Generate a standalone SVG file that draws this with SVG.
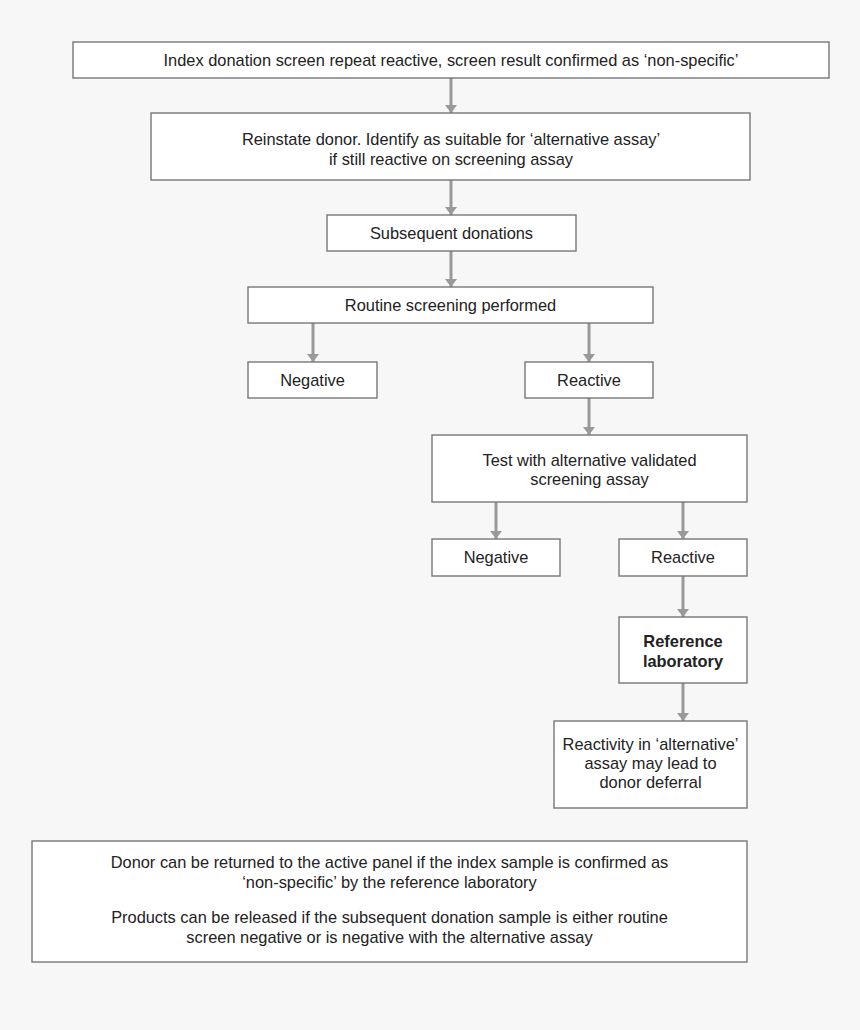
<svg xmlns="http://www.w3.org/2000/svg" width="860" height="1030" viewBox="0 0 860 1030">
<defs>
<marker id="ah" viewBox="0 0 8 12" refX="8" refY="6" markerWidth="8" markerHeight="12" markerUnits="userSpaceOnUse" orient="auto">
<path d="M0,0 L8,6 L0,12 z" fill="#999"/>
</marker>
<style>
.box{fill:#fff;stroke:#777;stroke-width:1.4}
.t{font-family:"Liberation Sans",Arial,sans-serif;font-size:16.4px;fill:#222;text-anchor:middle}
.b{font-weight:bold}
.c{stroke:#999;stroke-width:3;fill:none;marker-end:url(#ah)}
</style>
</defs>
<rect width="860" height="1030" fill="#f7f7f7"/>
<g id="connectors">
<line class="c" x1="451" y1="78" x2="451" y2="113"/>
<line class="c" x1="451" y1="180" x2="451" y2="215"/>
<line class="c" x1="451" y1="251" x2="451" y2="287"/>
<line class="c" x1="313" y1="323" x2="313" y2="362"/>
<line class="c" x1="589" y1="323" x2="589" y2="362"/>
<line class="c" x1="589" y1="398" x2="589" y2="435"/>
<line class="c" x1="496" y1="502" x2="496" y2="539"/>
<line class="c" x1="683" y1="502" x2="683" y2="539"/>
<line class="c" x1="683" y1="576" x2="683" y2="617"/>
<line class="c" x1="683" y1="683" x2="683" y2="721"/>
</g>
<g id="n1"><rect class="box" x="73" y="42" width="756" height="36"/><text class="t" x="451" y="66">Index donation screen repeat reactive, screen result confirmed as ‘non-specific’</text></g>
<g id="n2"><rect class="box" x="151" y="113" width="599" height="67"/><text class="t" x="451" y="145">Reinstate donor. Identify as suitable for ‘alternative assay’</text><text class="t" x="451" y="165">if still reactive on screening assay</text></g>
<g id="n3"><rect class="box" x="327" y="215" width="249" height="36"/><text class="t" x="451.5" y="239">Subsequent donations</text></g>
<g id="n4"><rect class="box" x="248" y="287" width="405" height="36"/><text class="t" x="450.5" y="311">Routine screening performed</text></g>
<g id="n5"><rect class="box" x="248" y="362" width="129" height="36"/><text class="t" x="312.5" y="386">Negative</text></g>
<g id="n6"><rect class="box" x="525" y="362" width="128" height="36"/><text class="t" x="589" y="386">Reactive</text></g>
<g id="n7"><rect class="box" x="432" y="435" width="315" height="67"/><text class="t" x="589.5" y="466">Test with alternative validated</text><text class="t" x="589.5" y="485">screening assay</text></g>
<g id="n8"><rect class="box" x="432" y="539" width="128" height="37"/><text class="t" x="496" y="563">Negative</text></g>
<g id="n9"><rect class="box" x="619" y="539" width="128" height="37"/><text class="t" x="683" y="563">Reactive</text></g>
<g id="n10"><rect class="box" x="619" y="617" width="128" height="66"/><text class="t b" x="683" y="647">Reference</text><text class="t b" x="683" y="667">laboratory</text></g>
<g id="n11"><rect class="box" x="554" y="721" width="193" height="87"/><text class="t" x="650.5" y="750">Reactivity in ‘alternative’</text><text class="t" x="650.5" y="769">assay may lead to</text><text class="t" x="650.5" y="788">donor deferral</text></g>
<g id="n12"><rect class="box" x="32" y="841" width="715" height="121"/><text class="t" x="389.5" y="868">Donor can be returned to the active panel if the index sample is confirmed as</text><text class="t" x="389.5" y="888">‘non-specific’ by the reference laboratory</text><text class="t" x="389.5" y="923">Products can be released if the subsequent donation sample is either routine</text><text class="t" x="389.5" y="943">screen negative or is negative with the alternative assay</text></g>
</svg>
